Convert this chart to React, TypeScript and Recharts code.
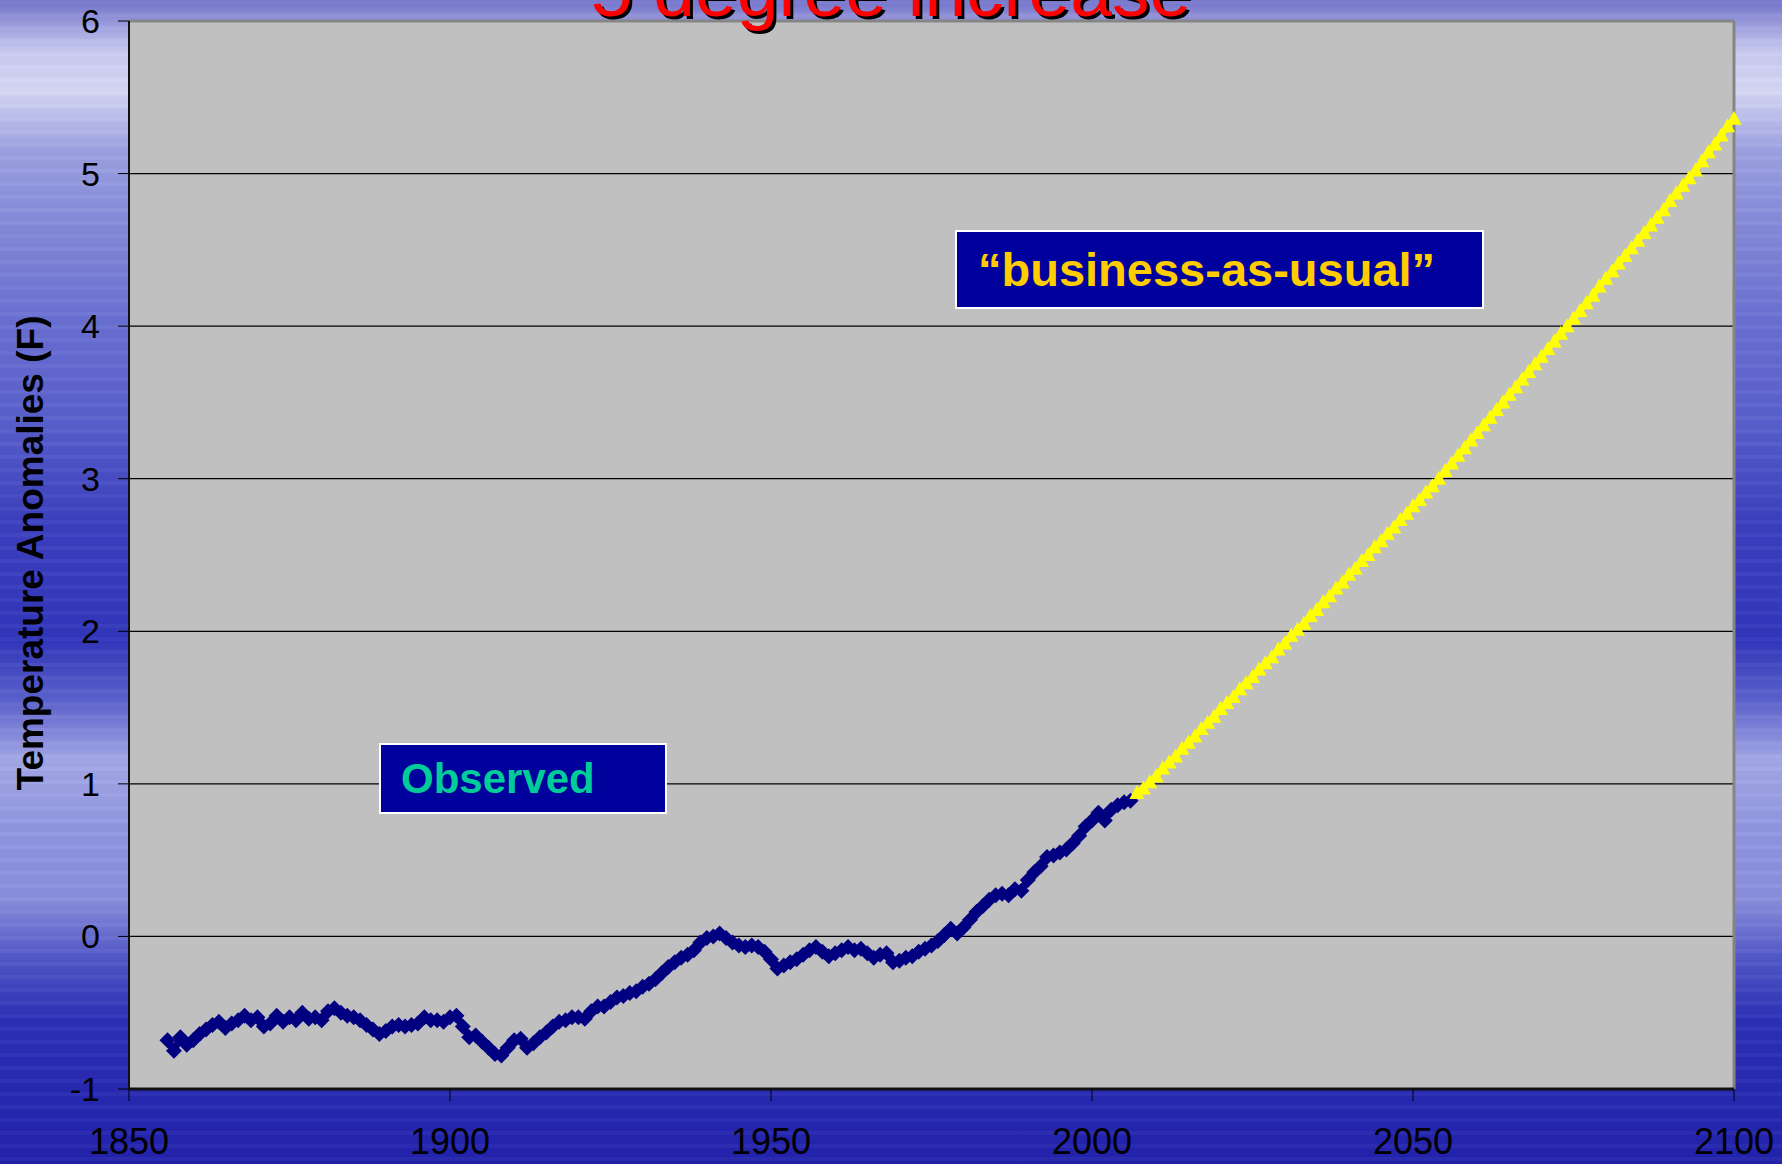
import { CartesianGrid, LineChart, Line, ReferenceLine, XAxis, YAxis } from "recharts";

// observed anomalies, one value per year starting 1856
const observedStart = 1856;
const observedValues = [
  -0.68, -0.75, -0.66, -0.71, -0.68, -0.64, -0.61, -0.58, -0.56, -0.6,
  -0.57, -0.55, -0.52, -0.55, -0.53, -0.59, -0.57, -0.52, -0.56, -0.53,
  -0.55, -0.5, -0.54, -0.53, -0.55, -0.49, -0.47, -0.5, -0.52, -0.53,
  -0.55, -0.58, -0.61, -0.64, -0.62, -0.59, -0.58, -0.59, -0.58, -0.57,
  -0.53, -0.55, -0.55, -0.56, -0.53, -0.52, -0.59, -0.66, -0.65, -0.69,
  -0.73, -0.77, -0.78, -0.73, -0.68, -0.67, -0.73, -0.7, -0.66, -0.63,
  -0.59, -0.56, -0.55, -0.53, -0.53, -0.54, -0.49, -0.46, -0.46, -0.43,
  -0.4, -0.39, -0.37, -0.36, -0.33, -0.31, -0.28, -0.24, -0.2, -0.17,
  -0.14, -0.12, -0.09, -0.04, -0.01, 0.0, 0.02, -0.01, -0.04, -0.06,
  -0.07, -0.06, -0.07, -0.1, -0.15, -0.21, -0.19, -0.17, -0.15, -0.12,
  -0.09, -0.07, -0.1, -0.13, -0.11, -0.09, -0.07, -0.09, -0.08, -0.11,
  -0.14, -0.12, -0.11, -0.17, -0.16, -0.14, -0.13, -0.1, -0.08, -0.06,
  -0.03, 0.01, 0.05, 0.02, 0.06, 0.11, 0.16, 0.2, 0.24, 0.27,
  0.28, 0.27, 0.31, 0.3, 0.37, 0.42, 0.46, 0.52, 0.53, 0.55,
  0.57, 0.61, 0.66, 0.72, 0.76, 0.81, 0.76, 0.83, 0.86, 0.88,
  0.89,
];

// "business-as-usual" projection, one value per year starting 2007
const projectionStart = 2007;
const projectionValues = [
  0.94, 0.97, 1.01, 1.05, 1.1, 1.14, 1.18, 1.23, 1.27, 1.31,
  1.36, 1.4, 1.44, 1.49, 1.53, 1.57, 1.62, 1.66, 1.7, 1.75,
  1.79, 1.83, 1.88, 1.92, 1.97, 2.01, 2.05, 2.1, 2.14, 2.19,
  2.23, 2.28, 2.32, 2.37, 2.41, 2.46, 2.5, 2.55, 2.59, 2.64,
  2.68, 2.73, 2.77, 2.82, 2.86, 2.91, 2.95, 3.0, 3.05, 3.1,
  3.15, 3.2, 3.25, 3.3, 3.35, 3.4, 3.45, 3.5, 3.55, 3.6,
  3.65, 3.7, 3.75, 3.8, 3.85, 3.9, 3.95, 4.0, 4.05, 4.1,
  4.15, 4.2, 4.26, 4.31, 4.36, 4.41, 4.46, 4.51, 4.56, 4.61,
  4.66, 4.71, 4.76, 4.82, 4.87, 4.92, 4.97, 5.02, 5.08, 5.14,
  5.19, 5.25, 5.31, 5.36,
];

const yearTicks = [1850, 1900, 1950, 2000, 2050, 2100];
const anomalyTicks = [-1, 0, 1, 2, 3, 4, 5, 6];

const title = "5 degree increase";
const yLabel = "Temperature Anomalies (F)";
const observedLabel = "Observed";
const projectionLabel = "\u201Cbusiness-as-usual\u201D";

const observed = observedValues.map((v, i) => ({ year: observedStart + i, value: v }));
const projection = projectionValues.map((v, i) => ({ year: projectionStart + i, value: v }));

const font = "Arial, 'Liberation Sans', sans-serif";

const Diamond = (props: any) => {
  const { cx, cy, index } = props;
  if (cx == null || cy == null) return <g key={`d${index}`} />;
  const r = 8;
  return (
    <path
      key={`d${index}`}
      d={`M${cx},${cy - r}L${cx + r},${cy}L${cx},${cy + r}L${cx - r},${cy}Z`}
      fill="#000080"
    />
  );
};

const Triangle = (props: any) => {
  const { cx, cy, index } = props;
  if (cx == null || cy == null) return <g key={`t${index}`} />;
  return (
    <path
      key={`t${index}`}
      d={`M${cx},${cy - 8}L${cx + 7.5},${cy + 6}L${cx - 7.5},${cy + 6}Z`}
      fill="#ffff00"
    />
  );
};

const background = [
  "repeating-linear-gradient(to bottom, rgba(255,255,255,0.035) 0px, rgba(255,255,255,0.035) 4px, rgba(0,0,60,0.02) 4px, rgba(0,0,60,0.02) 13px)",
  "linear-gradient(to bottom, #7474cc 0px, #c8caf0 50px, #d6d8f4 90px, #9ea2e2 150px, #8489d8 230px, #6a70d2 320px, #5a60cc 420px, #3c40bf 520px, #3236bb 640px, #5c62cc 700px, #a4a8e6 760px, #9296e0 830px, #8a8edc 900px, #5056c6 960px, #2c30b6 1020px, #2222ac 1164px)",
].join(", ");

export default function App() {
  return (
    <div
      style={{
        position: "absolute",
        left: 0,
        top: 0,
        width: 1782,
        height: 1164,
        overflow: "hidden",
        background,
        fontFamily: font,
      }}
    >
      <LineChart width={1782} height={1164} margin={{ top: 21, right: 48, left: 0, bottom: 0 }}>
        <CartesianGrid vertical={false} horizontal stroke="#000" strokeWidth={1.2} fill="#c0c0c0" fillOpacity={1} />
        <XAxis
          type="number"
          dataKey="year"
          domain={[1850, 2100]}
          ticks={yearTicks}
          allowDuplicatedCategory={false}
          height={75}
          axisLine={{ stroke: "#111", strokeWidth: 3 }}
          tickLine={{ stroke: "#000", strokeWidth: 1 }}
          tickSize={12}
          tickMargin={27}
          tick={{ fill: "#000", fontSize: 36, fontFamily: font }}
        />
        <YAxis
          type="number"
          dataKey="value"
          domain={[-1, 6]}
          ticks={anomalyTicks}
          width={129}
          axisLine={{ stroke: "#111", strokeWidth: 2 }}
          tickLine={{ stroke: "#000", strokeWidth: 1 }}
          tickSize={11}
          tickMargin={18}
          tick={{ fill: "#000", fontSize: 34, fontFamily: font }}
        />
        <ReferenceLine y={6} stroke="#858585" strokeWidth={3} />
        <ReferenceLine x={2100} stroke="#858585" strokeWidth={3} />
        <Line
          data={observed}
          dataKey="value"
          type="linear"
          stroke="#000080"
          strokeWidth={7}
          dot={Diamond}
          activeDot={false}
          isAnimationActive={false}
        />
        <Line
          data={projection}
          dataKey="value"
          type="linear"
          stroke="#ffff00"
          strokeWidth={6}
          dot={Triangle}
          activeDot={false}
          isAnimationActive={false}
        />
      </LineChart>

      <div
        style={{
          position: "absolute",
          left: 0,
          width: 1782,
          top: -47,
          textAlign: "center",
          fontSize: 75,
          lineHeight: "75px",
          color: "#ff0000",
          textShadow: "3px 3px 0 #000",
          whiteSpace: "nowrap",
        }}
      >
        {title}
      </div>

      <div
        style={{
          position: "absolute",
          left: 31,
          top: 553,
          transform: "translate(-50%, -50%) rotate(-90deg)",
          fontSize: 37,
          fontWeight: "bold",
          color: "#000",
          whiteSpace: "nowrap",
        }}
      >
        {yLabel}
      </div>

      <div
        style={{
          position: "absolute",
          left: 379,
          top: 743,
          width: 288,
          height: 71,
          boxSizing: "border-box",
          border: "2px solid #fff",
          background: "#00009c",
          paddingLeft: 20,
          fontSize: 42,
          fontWeight: "bold",
          lineHeight: "67px",
          color: "#00cc99",
          whiteSpace: "nowrap",
        }}
      >
        {observedLabel}
      </div>

      <div
        style={{
          position: "absolute",
          left: 955,
          top: 230,
          width: 529,
          height: 79,
          boxSizing: "border-box",
          border: "2px solid #fff",
          background: "#00009c",
          paddingLeft: 21,
          fontSize: 47,
          fontWeight: "bold",
          lineHeight: "75px",
          color: "#ffcc00",
          whiteSpace: "nowrap",
        }}
      >
        {projectionLabel}
      </div>
    </div>
  );
}
